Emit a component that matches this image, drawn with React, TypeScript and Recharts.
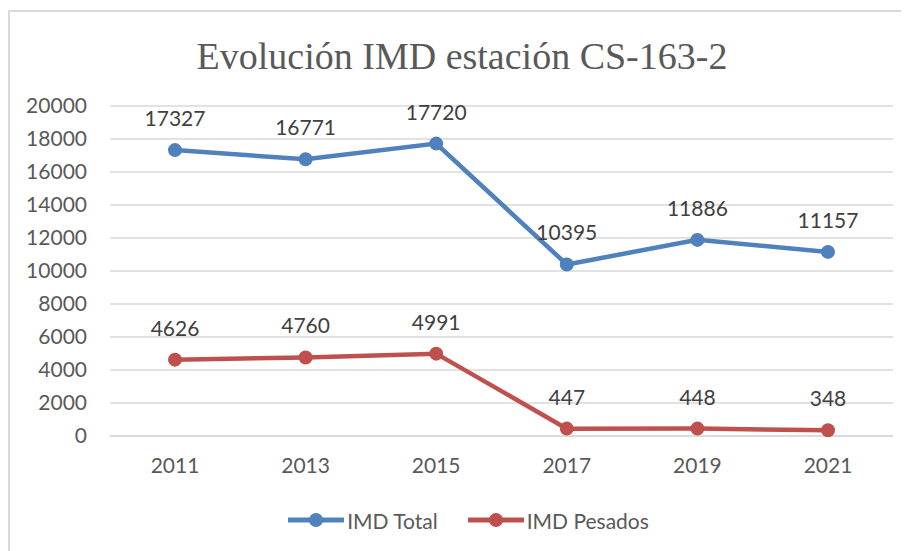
import React from "react";
import { LineChart, Line, XAxis, YAxis, CartesianGrid, Legend, LabelList } from "recharts";

const years = ["2011", "2013", "2015", "2017", "2019", "2021"];
const imdTotal = [17327, 16771, 17720, 10395, 11886, 11157];
const imdPesados = [4626, 4760, 4991, 447, 448, 348];
const yTicks = [0, 2000, 4000, 6000, 8000, 10000, 12000, 14000, 16000, 18000, 20000];
const seriesOrder = ["IMD Total", "IMD Pesados"];

const BLUE = "#4F81BD";
const RED = "#C0504D";
const FONT = "Lato, 'Noto Sans', sans-serif";

const data = years.map((year, i) => ({
  year,
  total: imdTotal[i],
  pesados: imdPesados[i],
}));

const LegendContent = (props: any) => {
  const items = [...(props.payload || [])].sort(
    (a: any, b: any) => seriesOrder.indexOf(a.value) - seriesOrder.indexOf(b.value)
  );
  return (
    <div style={{ display: "flex", justifyContent: "center", alignItems: "center", height: 30 }}>
      {items.map((entry: any, i: number) => (
        <div
          key={entry.value}
          style={{ display: "flex", alignItems: "center", marginLeft: i === 0 ? 0 : 30 }}
        >
          <svg width={56} height={16} style={{ display: "block" }}>
            <line x1={1} y1={8} x2={55} y2={8} stroke={entry.color} strokeWidth={5} strokeLinecap="round" />
            <circle cx={28} cy={8} r={7} fill={entry.color} />
          </svg>
          <span style={{ fontFamily: FONT, fontSize: 21, color: "#595959", marginLeft: 3 }}>
            {entry.value}
          </span>
        </div>
      ))}
    </div>
  );
};

export default function App() {
  return (
    <div
      style={{
        position: "relative",
        marginTop: 2,
        width: 899,
        height: 539,
        borderTop: "2px solid #d9d9d9",
        borderLeft: "2px solid #d9d9d9",
        background: "#fff",
      }}
    >
      <div
        style={{
          position: "absolute",
          top: 25,
          left: 0,
          width: 904,
          textAlign: "center",
          fontFamily: "'Liberation Serif', 'Times New Roman', serif",
          fontSize: 38,
          lineHeight: "38px",
          color: "#595959",
          whiteSpace: "nowrap",
        }}
      >
        Evolución IMD estación CS-163-2
      </div>
      <LineChart
        width={899}
        height={539}
        data={data}
        margin={{ top: 94, right: 16, bottom: 45, left: 10 }}
      >
        <CartesianGrid vertical={false} stroke="#d9d9d9" strokeWidth={1.5} />
        <XAxis
          dataKey="year"
          height={40}
          padding={{ left: 65, right: 65 }}
          axisLine={{ stroke: "#d9d9d9", strokeWidth: 1.5 }}
          tickLine={false}
          tickSize={0}
          tickMargin={22}
          tick={{ fontFamily: FONT, fontSize: 21, fill: "#595959" }}
        />
        <YAxis
          width={90}
          domain={[0, 20000]}
          ticks={yTicks}
          interval={0}
          axisLine={false}
          tickLine={false}
          tickSize={0}
          tickMargin={23}
          tick={{ fontFamily: FONT, fontSize: 21, fill: "#595959" }}
        />
        <Legend
          height={30}
          verticalAlign="bottom"
          content={<LegendContent />}
          wrapperStyle={{ top: 493, left: 10, width: 897 }}
        />
        <Line
          type="linear"
          dataKey="total"
          name="IMD Total"
          stroke={BLUE}
          strokeWidth={4.5}
          dot={{ r: 6, fill: BLUE, stroke: BLUE, strokeWidth: 2 }}
          activeDot={false}
          isAnimationActive={false}
        >
          <LabelList
            dataKey="total"
            position="top"
            offset={24}
            style={{ fontFamily: FONT, fontSize: 21, fill: "#404040" }}
          />
        </Line>
        <Line
          type="linear"
          dataKey="pesados"
          name="IMD Pesados"
          stroke={RED}
          strokeWidth={4.5}
          dot={{ r: 6, fill: RED, stroke: RED, strokeWidth: 2 }}
          activeDot={false}
          isAnimationActive={false}
        >
          <LabelList
            dataKey="pesados"
            position="top"
            offset={24}
            style={{ fontFamily: FONT, fontSize: 21, fill: "#404040" }}
          />
        </Line>
      </LineChart>
    </div>
  );
}
